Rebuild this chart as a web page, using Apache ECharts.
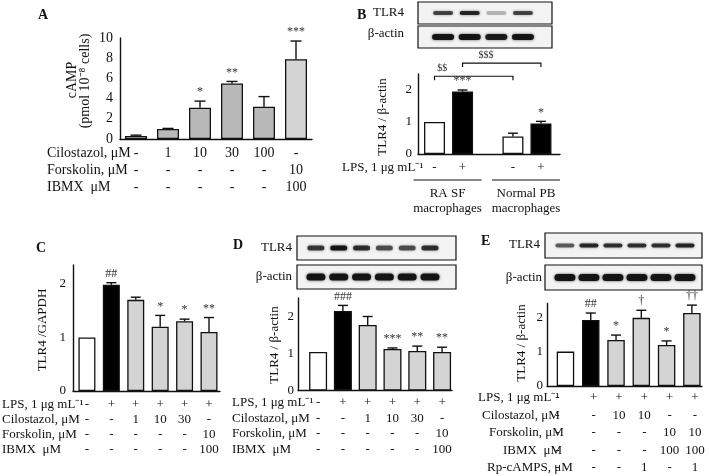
<!DOCTYPE html>
<html><head><meta charset="utf-8">
<script src="https://cdn.jsdelivr.net/npm/echarts@6/dist/echarts.min.js"></script>
<style>html,body{margin:0;padding:0;background:#fff}#c{width:709px;height:476px}</style>
</head><body><div id="c"></div>
<script>
// ---------------- DATA ----------------
// Panel A : cAMP
const aCilostazol = ['-', '1', '10', '30', '100', '-'];
const aForskolin  = ['-', '-', '-', '-', '-', '10'];
const aIBMX       = ['-', '-', '-', '-', '-', '100'];
const aValues = [0.3, 1.0, 3.1, 5.5, 3.2, 7.9];
const aErrors = [0.08, 0.05, 0.65, 0.2, 1.0, 1.8];
const aSig    = ['', '', '*', '**', '', '***'];

// Panel B : TLR4 in macrophages
const bLPS    = ['-', '+', '-', '+'];
const bGroups = ['RA SF\nmacrophages', 'Normal PB\nmacrophages'];
const bValues = [1.0, 1.95, 0.55, 0.95];
const bErrors = [0, 0.05, 0.1, 0.07];
const bSig    = ['', '***', '', '*'];
const bBrackets = [
  { from: 0, to: 2, y: 2.43, text: '$$' },
  { from: 1, to: 3, y: 2.84, text: '$$$' }
];
const bBlotTLR4  = [0.7, 0.85, 0.25, 0.7];
const bBlotActin = [0.95, 0.95, 0.9, 0.95];

// Panel C : TLR4/GAPDH
const cLPS        = ['-', '+', '+', '+', '+', '+'];
const cCilostazol = ['-', '-', '1', '10', '30', '-'];
const cForskolin  = ['-', '-', '-', '-', '-', '10'];
const cIBMX       = ['-', '-', '-', '-', '-', '100'];
const cValues = [1.0, 1.98, 1.7, 1.2, 1.3, 1.1];
const cErrors = [0, 0.04, 0.05, 0.21, 0.04, 0.27];
const cSig    = ['', '##', '', '*', '*', '**'];

// Panel D : TLR4/beta-actin
const dLPS        = ['-', '+', '+', '+', '+', '+'];
const dCilostazol = ['-', '-', '1', '10', '30', '-'];
const dForskolin  = ['-', '-', '-', '-', '-', '10'];
const dIBMX       = ['-', '-', '-', '-', '-', '100'];
const dValues = [1.04, 2.15, 1.77, 1.12, 1.07, 1.04];
const dErrors = [0, 0.15, 0.23, 0.03, 0.13, 0.13];
const dSig    = ['', '###', '', '***', '**', '**'];
const dBlotTLR4  = [0.75, 0.95, 0.8, 0.65, 0.65, 0.8];
const dBlotActin = [0.95, 0.95, 0.95, 0.95, 0.95, 0.95];

// Panel E : TLR4/beta-actin with Rp-cAMPS
const eLPS        = ['-', '+', '+', '+', '+', '+'];
const eCilostazol = ['-', '-', '10', '10', '-', '-'];
const eForskolin  = ['-', '-', '-', '-', '10', '10'];
const eIBMX       = ['-', '-', '-', '-', '100', '100'];
const eRpcAMPS    = ['-', '-', '-', '1', '-', '1'];
const eValues = [1.0, 1.92, 1.34, 1.98, 1.19, 2.12];
const eErrors = [0, 0.2, 0.14, 0.22, 0.12, 0.23];
const eSig    = ['', '##', '*', '†', '*', '††'];
const eBlotTLR4  = [0.6, 0.85, 0.8, 0.8, 0.8, 0.85];
const eBlotActin = [0.95, 0.95, 0.95, 0.95, 0.95, 0.95];

// ---------------- STYLE ----------------
const FONT = '"Liberation Serif", "Times New Roman", serif';
const INK = '#111';
const WHITE = '#ffffff', BLACK = '#000000', GRAY = '#b9b9b9', LGRAY = '#d4d4d4';

const option = { animation: false, backgroundColor: '#fff', grid: [], xAxis: [], yAxis: [], series: [], graphic: [] };

function txt(x, y, text, o) {
  o = o || {};
  option.graphic.push({
    type: 'text', x: x, y: y, rotation: o.rot || 0, z: 10,
    style: {
      text: text, fill: INK, fontSize: o.fs || 13, fontFamily: FONT, fontWeight: o.bold ? 'bold' : 'normal',
      align: o.align || 'left', textAlign: o.align || 'left',
      verticalAlign: o.va || 'middle', textVerticalAlign: o.va || 'middle'
    }
  });
}

function chart(p) {
  const gi = option.grid.length;
  option.grid.push({ left: p.left, top: p.top, width: p.width, height: p.height });
  option.xAxis.push({ gridIndex: gi, type: 'value', min: p.xmin, max: p.xmax,
    axisLine: { show: true, onZero: false, lineStyle: { color: INK, width: 1.4 } },
    axisTick: { show: false }, axisLabel: { show: false }, splitLine: { show: false } });
  option.yAxis.push({ gridIndex: gi, type: 'value', min: 0, max: p.ymax, interval: p.interval,
    axisLine: { show: true, onZero: false, lineStyle: { color: INK, width: 1.4 } },
    axisTick: { show: false }, splitLine: { show: false },
    axisLabel: { color: INK, fontFamily: FONT, fontSize: p.fs, margin: p.margin, showMaxLabel: p.showMax } });
  const xs = p.pos || p.values.map((_, i) => i);
  option.series.push({ type: 'bar', xAxisIndex: gi, yAxisIndex: gi, barWidth: p.barWidth,
    itemStyle: { borderColor: INK, borderWidth: 1.3 },
    data: p.values.map((v, i) => ({ value: [xs[i], v], itemStyle: { color: p.colors[i] } })) });
  option.series.push({ type: 'custom', xAxisIndex: gi, yAxisIndex: gi, clip: false, z: 5,
    data: p.values.map((v, i) => [xs[i], v, p.errors[i]]),
    renderItem: (params, api) => {
      const i = params.dataIndex;
      const x = api.value(0), v = api.value(1), e = api.value(2);
      const b = api.coord([x, v]), t = api.coord([x, v + e]);
      const ch = [];
      if (e > 0) {
        ch.push({ type: 'line', shape: { x1: b[0], y1: b[1], x2: t[0], y2: t[1] }, style: { stroke: INK, lineWidth: 1.4 } });
        ch.push({ type: 'line', shape: { x1: t[0] - p.cap, y1: t[1], x2: t[0] + p.cap, y2: t[1] }, style: { stroke: INK, lineWidth: 1.4 } });
      }
      if (p.sig[i]) ch.push({ type: 'text', x: t[0], y: t[1] - 3,
        style: { text: p.sig[i], fill: '#333', fontSize: 12, fontFamily: FONT, align: 'center', textAlign: 'center', verticalAlign: 'bottom', textVerticalAlign: 'bottom' } });
      return { type: 'group', children: ch };
    } });
  if (p.rows) {
    option.series.push({ type: 'custom', xAxisIndex: gi, yAxisIndex: gi, clip: false, z: 5,
      data: xs.map(x => [x, 0]),
      renderItem: (params, api) => {
        const i = params.dataIndex;
        const c = api.coord([api.value(0), 0]);
        const sh = i === 0 ? (p.shift0 || 0) : (p.shift || 0);
        return { type: 'group', children: p.rows.map((row, r) => ({ type: 'text', x: c[0] + sh, y: c[1] + p.rowOff + r * p.rowGap,
          style: { text: row[i], fill: INK, fontSize: p.rowFs, fontFamily: FONT, align: 'center', textAlign: 'center', verticalAlign: 'middle', textVerticalAlign: 'middle' } })) };
      } });
    const base = p.top + p.height;
    p.rowNames.forEach((n, r) => txt(Array.isArray(p.nameX) ? p.nameX[r] : p.nameX, base + p.rowOff + r * p.rowGap, n, { fs: p.rowFs }));
  }
  return gi;
}

function blot(p) {
  const gi = option.grid.length;
  option.grid.push({ left: p.left, top: p.top, width: p.width, height: p.height, show: true,
    borderColor: INK, borderWidth: 1.2, backgroundColor: '#f3f3f3' });
  option.xAxis.push({ gridIndex: gi, type: 'value', min: p.xmin, max: p.xmax, show: false });
  option.yAxis.push({ gridIndex: gi, type: 'value', min: 0, max: 1, show: false });
  option.series.push({ type: 'custom', xAxisIndex: gi, yAxisIndex: gi, clip: true,
    data: p.lanes.map((v, i) => [i, 0.5, v]),
    renderItem: (params, api) => {
      const c = api.coord([api.value(0), api.value(1)]);
      const k = api.value(2);
      return { type: 'rect', shape: { x: c[0] - p.bw / 2, y: c[1] - p.bh / 2, width: p.bw, height: p.bh, r: p.bh / 2 },
        style: { fill: 'rgba(15,15,15,' + k + ')', shadowBlur: 3, shadowColor: 'rgba(0,0,0,' + (k * 0.7) + ')' } };
    } });
}

// ---------------- PANEL A ----------------
chart({ left: 120, top: 38, width: 192, height: 101, xmin: -0.5, xmax: 5.5, ymax: 10, interval: 2, fs: 14, margin: 7, showMax: true,
  values: aValues, errors: aErrors, sig: aSig, colors: [WHITE, GRAY, GRAY, GRAY, GRAY, LGRAY], barWidth: 22, cap: 5.5,
  rows: [aCilostazol, aForskolin, aIBMX], rowNames: ['Cilostazol, μM', 'Forskolin, μM', 'IBMX  μM'], nameX: 47,
  rowOff: 14, rowGap: 17, rowFs: 14 });
txt(38, 15, 'A', { bold: true, fs: 14 });
txt(72, 80, 'cAMP', { rot: Math.PI / 2, align: 'center', fs: 14 });
txt(85, 81, '(pmol 10⁻⁸ cells)', { rot: Math.PI / 2, align: 'center', fs: 14 });

// ---------------- PANEL B ----------------
const bPos = bLPS.map((_, i) => i + Math.floor(i / 2) * 0.8);
const bGi = chart({ left: 418, top: 74, width: 142, height: 80, xmin: -0.59, xmax: 4.48, ymax: 2.5, interval: 1, fs: 13, margin: 6, showMax: false,
  values: bValues, errors: bErrors, sig: bSig, colors: [WHITE, BLACK, WHITE, BLACK], barWidth: 21, cap: 5, pos: bPos,
  rows: [bLPS], rowNames: ['LPS, 1 μg mL⁻¹'], nameX: 342, rowOff: 14, rowGap: 17, rowFs: 13 });
option.series.push({ type: 'custom', xAxisIndex: bGi, yAxisIndex: bGi, clip: false, z: 5,
  data: bBrackets.map(b => [bPos[b.from], b.y, bPos[b.to]]),
  renderItem: (params, api) => {
    const b = bBrackets[params.dataIndex];
    const l = api.coord([api.value(0), api.value(1)]), r = api.coord([api.value(2), api.value(1)]);
    const leg = 4;
    return { type: 'group', children: [
      { type: 'polyline', shape: { points: [[l[0], l[1] + leg], [l[0], l[1]], [r[0], r[1]], [r[0], r[1] + leg]] }, style: { stroke: INK, lineWidth: 1.2, fill: null } },
      { type: 'text', x: l[0] + (r[0] - l[0]) * (params.dataIndex === 0 ? 0.1 : 0.3), y: l[1] - 3,
        style: { text: b.text, fill: '#333', fontSize: 10, fontFamily: FONT, align: 'center', textAlign: 'center', verticalAlign: 'bottom', textVerticalAlign: 'bottom' } }
    ] };
  } });
option.series.push({ type: 'custom', xAxisIndex: bGi, yAxisIndex: bGi, clip: false, z: 5,
  data: bGroups.map((g, gi) => [bPos[gi * 2], 0, bPos[gi * 2 + 1]]),
  renderItem: (params, api) => {
    const l = api.coord([api.value(0), 0]), r = api.coord([api.value(2), 0]);
    const y = l[1] + 26, x1 = l[0] - 21, x2 = r[0] + 19;
    return { type: 'group', children: [
      { type: 'line', shape: { x1: x1, y1: y, x2: x2, y2: y }, style: { stroke: INK, lineWidth: 1.2 } },
      { type: 'text', x: (x1 + x2) / 2, y: y + 6, style: { text: bGroups[params.dataIndex], fill: INK, fontSize: 13, fontFamily: FONT, lineHeight: 15,
        align: 'center', textAlign: 'center', verticalAlign: 'top', textVerticalAlign: 'top' } }
    ] };
  } });
txt(357, 15, 'B', { bold: true, fs: 14 });
txt(383, 117, 'TLR4 / β-actin', { rot: Math.PI / 2, align: 'center', fs: 13 });
blot({ left: 418, top: 2, width: 134, height: 22, xmin: -0.94, xmax: 4.09, lanes: bBlotTLR4, bw: 20, bh: 4 });
blot({ left: 418, top: 26, width: 134, height: 22, xmin: -0.94, xmax: 4.09, lanes: bBlotActin, bw: 22, bh: 6 });
txt(404, 13, 'TLR4', { align: 'right', fs: 13 });
txt(404, 34, 'β-actin', { align: 'right', fs: 13 });

// ---------------- PANEL C ----------------
chart({ left: 73, top: 265, width: 147, height: 126, xmin: -0.57, xmax: 5.45, ymax: 2.35, interval: 1, fs: 13, margin: 7, showMax: false,
  values: cValues, errors: cErrors, sig: cSig, colors: [WHITE, BLACK, LGRAY, LGRAY, LGRAY, LGRAY], barWidth: 17, cap: 5,
  rows: [cLPS, cCilostazol, cForskolin, cIBMX], rowNames: ['LPS, 1 μg mL⁻¹', 'Cilostazol, μM', 'Forskolin, μM', 'IBMX  μM'], nameX: 2,
  rowOff: 14, rowGap: 15, rowFs: 13 });
txt(36, 248, 'C', { bold: true, fs: 14 });
txt(43, 330, 'TLR4 /GAPDH', { rot: Math.PI / 2, align: 'center', fs: 13 });

// ---------------- PANEL D ----------------
chart({ left: 298, top: 298, width: 154, height: 92.5, xmin: -0.81, xmax: 5.4, ymax: 2.5, interval: 1, fs: 13, margin: 4, showMax: false,
  values: dValues, errors: dErrors, sig: dSig, colors: [WHITE, BLACK, LGRAY, LGRAY, LGRAY, LGRAY], barWidth: 18, cap: 5,
  rows: [dLPS, dCilostazol, dForskolin, dIBMX], rowNames: ['LPS, 1 μg mL⁻¹', 'Cilostazol, μM', 'Forskolin, μM', 'IBMX  μM'], nameX: 232,
  rowOff: 12.5, rowGap: 15.5, rowFs: 13 });
txt(233, 245, 'D', { bold: true, fs: 14 });
txt(275, 345, 'TLR4 / β-actin', { rot: Math.PI / 2, align: 'center', fs: 13 });
blot({ left: 297, top: 236, width: 159, height: 24, xmin: -0.83, xmax: 6.14, lanes: dBlotTLR4, bw: 17, bh: 5 });
blot({ left: 297, top: 265, width: 159, height: 24, xmin: -0.83, xmax: 6.14, lanes: dBlotActin, bw: 19, bh: 7 });
txt(292, 248, 'TLR4', { align: 'right', fs: 13 });
txt(292, 277, 'β-actin', { align: 'right', fs: 13 });

// ---------------- PANEL E ----------------
chart({ left: 547, top: 303.4, width: 155, height: 82.6, xmin: -0.73, xmax: 5.4, ymax: 2.4, interval: 1, fs: 13, margin: 4, showMax: false,
  values: eValues, errors: eErrors, sig: eSig, colors: [WHITE, BLACK, LGRAY, LGRAY, LGRAY, LGRAY], barWidth: 17.5, cap: 5,
  rows: [eLPS, eCilostazol, eForskolin, eIBMX, eRpcAMPS], rowNames: ['LPS, 1 μg mL⁻¹', 'Cilostazol, μM', 'Forskolin, μM', 'IBMX  μM', 'Rp-cAMPS, μM'],
  nameX: [478, 482, 489, 503, 487], rowOff: 12, rowGap: 17.5, rowFs: 13, shift: 3, shift0: -8 });
txt(481, 241, 'E', { bold: true, fs: 14 });
txt(522, 343, 'TLR4 / β-actin', { rot: Math.PI / 2, align: 'center', fs: 13 });
blot({ left: 545, top: 233, width: 157, height: 25, xmin: -0.83, xmax: 5.71, lanes: eBlotTLR4, bw: 19, bh: 4 });
blot({ left: 545, top: 265, width: 157, height: 25, xmin: -0.83, xmax: 5.71, lanes: eBlotActin, bw: 21, bh: 7 });
txt(540, 245, 'TLR4', { align: 'right', fs: 13 });
txt(542, 278, 'β-actin', { align: 'right', fs: 13 });

const chartInst = echarts.init(document.getElementById('c'), null, { renderer: 'canvas' });
chartInst.setOption(option);
</script>
</body></html>
